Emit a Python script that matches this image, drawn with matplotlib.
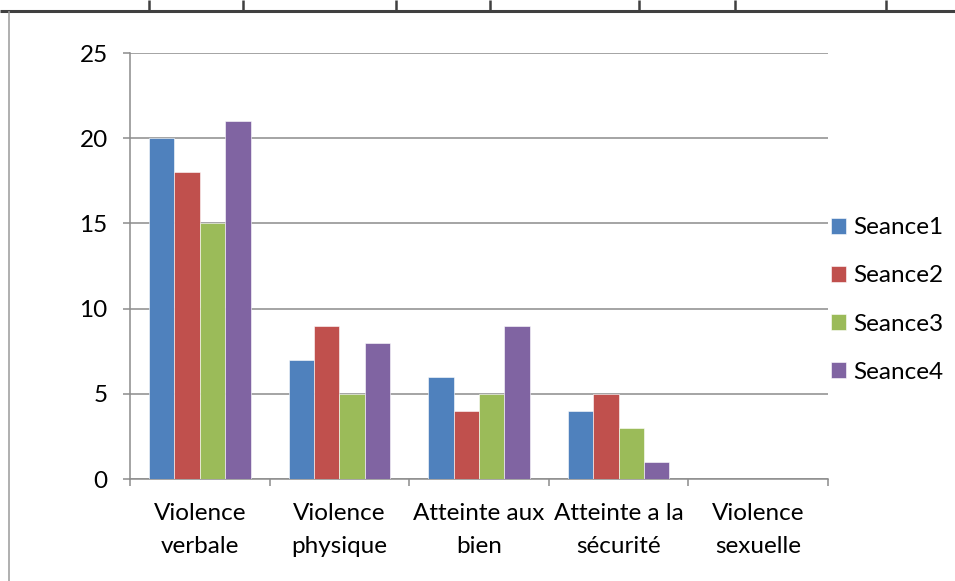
import matplotlib.pyplot as plt
from matplotlib.lines import Line2D
import numpy as np

categories = ['Violence\nverbale', 'Violence\nphysique', 'Atteinte aux\nbien',
              'Atteinte a la\nsécurité', 'Violence\nsexuelle']
series = ['Seance1', 'Seance2', 'Seance3', 'Seance4']
seance1 = [20, 7, 6, 4, 0]
seance2 = [18, 9, 4, 5, 0]
seance3 = [15, 5, 5, 3, 0]
seance4 = [21, 8, 9, 1, 0]
colors = ['#4F81BD', '#C0504D', '#9BBB59', '#8064A2']

plt.rcParams['font.family'] = ['Lato', 'DejaVu Sans']

W, H = 955, 581
fig = plt.figure(figsize=(W / 100, H / 100), dpi=100)
ax = fig.add_axes([130 / W, 1 - 479 / H, 698 / W, 426 / H])

# document table border around the chart
def px_line(x0, y0, x1, y1, **kw):
    fig.add_artist(Line2D([x0 / W, x1 / W], [1 - y0 / H, 1 - y1 / H],
                          transform=fig.transFigure, **kw))

px_line(0, 11, W, 11, color='#404040', lw=2.2, solid_capstyle='butt')
for xv in [149, 243, 396, 490, 639, 735, 886]:
    px_line(xv, 0, xv, 11, color='#404040', lw=1.8, solid_capstyle='butt')
px_line(9, 11, 9, H, color='#9a9a9a', lw=1.1, solid_capstyle='butt')

x = np.arange(len(categories))
bw = 1 / 5.5
for i, (vals, name) in enumerate(zip([seance1, seance2, seance3, seance4], series)):
    ax.bar(x + (i - 1.5) * bw, vals, bw, color=colors[i], label=name,
           edgecolor='white', linewidth=0.4, zorder=3)

ax.set_xlim(-0.5, len(categories) - 0.5)
ax.set_ylim(0, 25)
ax.set_yticks(range(0, 26, 5))
ax.yaxis.grid(True, color='#8c8c8c', lw=1.1, zorder=0)
ax.set_xticks(x)
ax.set_xticklabels(categories, fontsize=17.5, linespacing=1.75)
ax.set_xticks(np.arange(-0.5, len(categories)), minor=True)
ax.tick_params(axis='x', which='major', length=0, pad=17)
ax.tick_params(axis='x', which='minor', length=5, color='#8c8c8c', width=1.1)
ax.tick_params(axis='y', length=5, color='#8c8c8c', width=1.1, labelsize=17.5, pad=11)
for s in ['top', 'right']:
    ax.spines[s].set_visible(False)
for s in ['left', 'bottom']:
    ax.spines[s].set_color('#8c8c8c')
    ax.spines[s].set_linewidth(1.1)

ax.legend(loc='center left', bbox_to_anchor=(1.004, 0.42), frameon=False,
          fontsize=17.5, handlelength=0.62, handleheight=0.62, handletextpad=0.3,
          labelspacing=1.12, borderaxespad=0, borderpad=0)

fig.savefig('out.png', dpi=100)
